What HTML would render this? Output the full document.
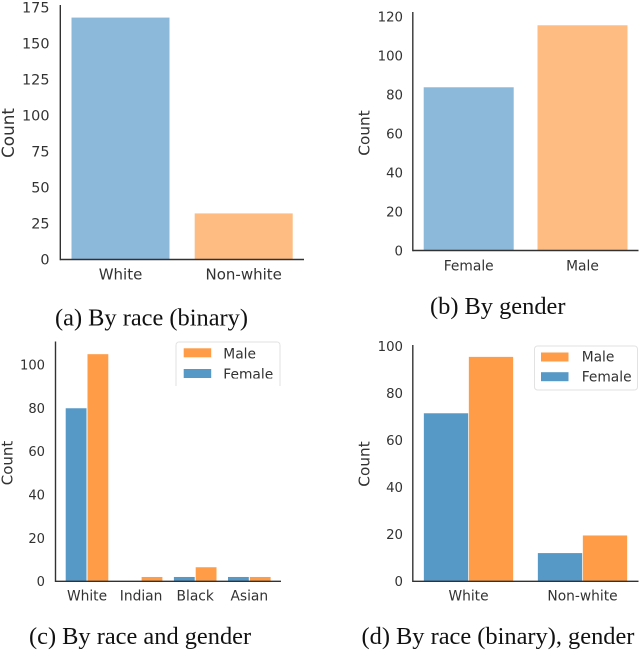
<!DOCTYPE html>
<html>
<head>
<meta charset="utf-8">
<title>Counts by race and gender</title>
<style>
html,body{margin:0;padding:0;background:#fff;width:640px;height:650px;overflow:hidden}
svg{display:block}
.tick{font-family:"DejaVu Sans",sans-serif;fill:#333}
.cap{font-family:"Liberation Serif",serif;font-size:24.4px;fill:#111}
</style>
</head>
<body>
<svg id="fig" xmlns="http://www.w3.org/2000/svg" width="640" height="650" viewBox="0 0 640 650">
<defs>
<clipPath id="legend-clip-c"><rect x="170" y="336" width="116" height="42.5"/></clipPath>
</defs>
<filter id="soft"><feGaussianBlur stdDeviation="0.35"/></filter>
<g id="root" filter="url(#soft)">
<g>
<path d="M176 386V345a3 3 0 0 1 3-3h98a3 3 0 0 1 3 3v41" fill="#fff" stroke="#e2e2e2" stroke-width="1"/>
</g>
<g>
<rect x="534.5" y="346" width="103" height="44" rx="3" fill="#fff" stroke="#e2e2e2" stroke-width="1"/>
</g>
</g>
<text class="cap" x="55" y="325.5">(a) By race (binary)</text>
<text class="cap" x="430" y="314">(b) By gender</text>
<text class="cap" x="29" y="644">(c) By race and gender</text>
<text class="cap" x="361.5" y="644">(d) By race (binary), gender</text>
</svg>
<script>
const raceBinaryCategories = ['White', 'Non-white'];
const raceBinaryCounts = [168, 32];
const raceBinaryTicks = [0, 25, 50, 75, 100, 125, 150, 175];

const genderCategories = ['Female', 'Male'];
const genderCounts = [83.7, 115.5];
const genderTicks = [0, 20, 40, 60, 80, 100, 120];

const raceCategories = ['White', 'Indian', 'Black', 'Asian'];
const raceFemaleCounts = [80, 0, 2, 2];
const raceMaleCounts = [105, 2, 6.5, 2];
const raceTicks = [0, 20, 40, 60, 80, 100];

const binaryGenderCategories = ['White', 'Non-white'];
const binaryFemaleCounts = [71.5, 12];
const binaryMaleCounts = [95.5, 19.5];
const binaryGenderTicks = [0, 20, 40, 60, 80, 100];

const legendLabels = ['Male', 'Female'];

const NS = 'http://www.w3.org/2000/svg';
const root = document.getElementById('root');

function mk(tag, attrs, parent) {
  const el = document.createElementNS(NS, tag);
  for (const k in attrs) el.setAttribute(k, attrs[k]);
  parent.appendChild(el);
  return el;
}

function drawPanel(p) {
  const g = mk('g', {}, root);
  
  
  const y = v => p.y0 - v * p.pxPerUnit;
  const x = i => p.x0 + i * p.step;

  p.series.forEach(function (s, si) {
    s.values.forEach(function (v, i) {
      if (v <= 0) return;
      const colour = s.colours ? s.colours[i] : s.colour;
      const left = x(i) + s.offset - s.width / 2;
      const bar = mk('rect', {x: left, y: y(v), width: s.width, height: p.y0 - y(v), fill: colour}, g);
      
      
    });
  });

  const yAxis = mk('line', {x1: p.axisX, x2: p.axisX, y1: p.axisTop, y2: p.y0 + 0.7, stroke: '#333', 'stroke-width': 1.4}, g);
  
  
  const xAxis = mk('line', {x1: p.axisX, x2: p.axisRight, y1: p.y0, y2: p.y0, stroke: '#333', 'stroke-width': 1.4}, g);
  
  

  p.ticks.forEach(function (t) {
    const label = mk('text', {class: 'tick', x: p.tickRight, y: y(t) + p.tickSize * 0.36, 'text-anchor': 'end', 'font-size': p.tickSize}, g);
    label.textContent = t;
    
    
  });

  p.categories.forEach(function (c, i) {
    const label = mk('text', {class: 'tick', x: x(i), y: p.catBase, 'text-anchor': 'middle', 'font-size': p.catSize}, g);
    label.textContent = c;
    
    
  });

  const title = mk('text', {class: 'tick', 'text-anchor': 'middle', 'font-size': p.titleSize,
    transform: 'translate(' + p.titleX + ',' + p.titleY + ') rotate(-90)'}, g);
  title.textContent = 'Count';
  
  
}

const BLUE_LIGHT = '#8cb8d9', ORANGE_LIGHT = '#febb82', BLUE = '#5698c6', ORANGE = '#fe9c47';

drawPanel({id: 'a', categories: raceBinaryCategories, ticks: raceBinaryTicks,
  series: [{values: raceBinaryCounts, colours: [BLUE_LIGHT, ORANGE_LIGHT], offset: 0, width: 98}],
  x0: 120.5, step: 123.2, y0: 259.5, pxPerUnit: 1.44, axisX: 60.3, axisRight: 304, axisTop: 5,
  tickRight: 49.5, tickSize: 14.4, catBase: 279.5, catSize: 15, titleSize: 16.8, titleX: 14, titleY: 133});

drawPanel({id: 'b', categories: genderCategories, ticks: genderTicks,
  series: [{values: genderCounts, colours: [BLUE_LIGHT, ORANGE_LIGHT], offset: 0, width: 90}],
  x0: 468.7, step: 113.8, y0: 250.5, pxPerUnit: 1.95, axisX: 412.8, axisRight: 638.5, axisTop: 12,
  tickRight: 403, tickSize: 13.3, catBase: 270.5, catSize: 13.8, titleSize: 15.3, titleX: 369.5, titleY: 133});

drawPanel({id: 'c', categories: raceCategories, ticks: raceTicks,
  series: [
    {values: raceFemaleCounts, colour: BLUE, offset: -10.9, width: 20.8},
    {values: raceMaleCounts, colour: ORANGE, offset: 10.9, width: 20.8}
  ],
  x0: 87, step: 54.1, y0: 581.3, pxPerUnit: 2.163, axisX: 55.5, axisRight: 281, axisTop: 341.5,
  tickRight: 45, tickSize: 13.1, catBase: 600.7, catSize: 13.8, titleSize: 15, titleX: 12.5, titleY: 463});

drawPanel({id: 'd', categories: binaryGenderCategories, ticks: binaryGenderTicks,
  series: [
    {values: binaryFemaleCounts, colour: BLUE, offset: -22.5, width: 44.3},
    {values: binaryMaleCounts, colour: ORANGE, offset: 22.5, width: 44.3}
  ],
  x0: 468.5, step: 114, y0: 581.3, pxPerUnit: 2.35, axisX: 412.8, axisRight: 638.5, axisTop: 345,
  tickRight: 403, tickSize: 13.3, catBase: 600.7, catSize: 13.8, titleSize: 15.3, titleX: 369.5, titleY: 464});

function drawLegend(id, patchX, textX, patchTops, bases, clip) {
  const g = mk('g', {}, root);
  
  
  if (clip) g.setAttribute('clip-path', 'url(#' + clip + ')');
  legendLabels.forEach(function (name, i) {
    const patch = mk('rect', {x: patchX, y: patchTops[i], width: 27.5, height: 9, fill: i === 0 ? ORANGE : BLUE}, g);
    
    
    const label = mk('text', {class: 'tick', x: textX, y: bases[i], 'font-size': 13.8}, g);
    label.textContent = name;
    
    
  });
}
drawLegend('c', 183.7, 223.3, [348.3, 369], [358.5, 379], 'legend-clip-c');
drawLegend('d', 541, 581.7, [352.5, 372.2], [361.7, 381.7], null);
</script>
</body>
</html>
